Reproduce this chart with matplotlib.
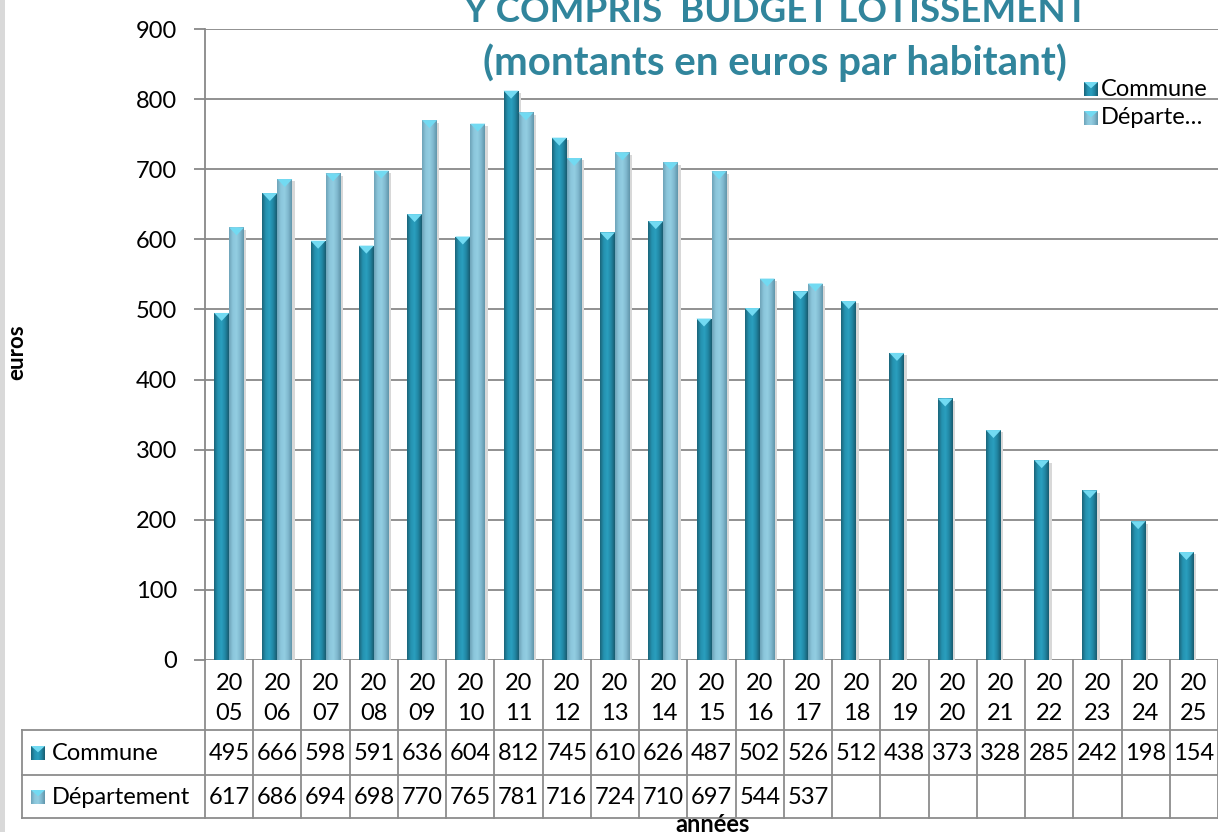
import numpy as np
import matplotlib
matplotlib.use("Agg")
import matplotlib.pyplot as plt
from matplotlib.patches import Polygon, Rectangle
from matplotlib.transforms import blended_transform_factory
from matplotlib.colors import LinearSegmentedColormap

plt.rcParams['font.family'] = ['Lato', 'DejaVu Sans']

# ---------------- data ----------------
years = ["2005", "2006", "2007", "2008", "2009", "2010", "2011", "2012", "2013", "2014",
         "2015", "2016", "2017", "2018", "2019", "2020", "2021", "2022", "2023", "2024", "2025"]
commune = [495, 666, 598, 591, 636, 604, 812, 745, 610, 626, 487, 502, 526, 512, 438, 373,
           328, 285, 242, 198, 154]
departement = [617, 686, 694, 698, 770, 765, 781, 716, 724, 710, 697, 544, 537,
               None, None, None, None, None, None, None, None]
series_names = ["Commune", "Département"]
legend_labels = ["Commune", "Départe…"]
title_lines = ["Y COMPRIS  BUDGET LOTISSEMENT", "(montants en euros par habitant)"]
ylabel = "euros"
xlabel = "années"
yticks = [0, 100, 200, 300, 400, 500, 600, 700, 800, 900]

# ---------------- style ----------------
W, H = 1218, 832
TITLE_C = "#31859c"
GRID_C = "#888888"
cmap_c = LinearSegmentedColormap.from_list("c", ["#1a6479", "#2592b0", "#2a9fbf", "#2187a4", "#185c70"])
cmap_d = LinearSegmentedColormap.from_list("d", ["#6ea3b8", "#8bc6db", "#93cee2", "#80b9cf", "#6195aa"])
cap_c = "#72daf2"
fs = 17

fig = plt.figure(figsize=(W / 100, H / 100), dpi=100)
fig.patch.set_facecolor("white")
fig.add_artist(Rectangle((0, 0), 5 / W, 1, transform=fig.transFigure,
                         facecolor="#d9d9d9", edgecolor="none"))

def fx(px):
    return px / W

def fy(py):
    return 1 - py / H

ax = fig.add_axes([fx(205), fy(660), fx(1218 - 205), (660 - 29) / H])
ax.set_facecolor("none")
n = len(years)
x = np.arange(n)
bw = 0.31
ax.set_xlim(-0.5, n - 0.5)
ax.set_ylim(0, 900)

for yv in yticks:
    ax.axhline(yv, color=GRID_C, lw=1.3, zorder=1)

grad = np.linspace(0, 1, 64).reshape(1, -1)
cap_h = 900 * 8 / 631.0

def draw_bars(xpos, vals, cmap, zo):
    vv = [np.nan if v is None else v for v in vals]
    bars = ax.bar(xpos, vv, width=bw, align="edge", color=cmap(0.5), edgecolor="none", zorder=zo)
    for b, v in zip(bars, vv):
        if np.isnan(v):
            continue
        x0, w, h = b.get_x(), b.get_width(), b.get_height()
        ax.add_patch(Rectangle((x0 + w, 0), 0.05, h - cap_h * 0.3, facecolor="#d8d8d8",
                               edgecolor="none", zorder=zo - 0.5))
        im = ax.imshow(grad, extent=(x0, x0 + w, 0, h), aspect="auto", cmap=cmap,
                       zorder=zo + 0.1, interpolation="bilinear")
        im.set_clip_path(b)
        ax.add_patch(Polygon([(x0, h), (x0 + w, h), (x0 + w * 0.5, h - cap_h)], closed=True,
                             facecolor=cap_c, edgecolor="none", zorder=zo + 0.2))
    return bars

draw_bars(x - bw, commune, cmap_c, 3)
draw_bars(x, departement, cmap_d, 3)
ax.set_xlim(-0.5, n - 0.5)
ax.set_ylim(0, 900)

for s in ["top", "right", "bottom"]:
    ax.spines[s].set_visible(False)
ax.spines["left"].set_color(GRID_C)
ax.spines["left"].set_linewidth(1.3)
ax.set_xticks([])
ax.set_yticks(yticks)
ax.set_yticklabels([str(v) for v in yticks], fontsize=fs)
ax.tick_params(axis="y", length=8, width=1.3, color=GRID_C, pad=12)

# ---------------- data table ----------------
tr = blended_transform_factory(ax.transData, fig.transFigure)
rows_y = [660, 730, 775, 818]
lc = "#8c8c8c"
for i in range(n + 1):
    xb = i - 0.5
    ax.add_line(plt.Line2D([xb, xb], [fy(660), fy(818)], transform=tr, color=lc, lw=1.3, clip_on=False))
for ry in rows_y[1:]:
    fig.add_artist(plt.Line2D([fx(22), 1], [fy(ry), fy(ry)], transform=fig.transFigure,
                              color=lc, lw=1.3))
fig.add_artist(plt.Line2D([fx(22), fx(22)], [fy(730), fy(818)], transform=fig.transFigure,
                          color=lc, lw=1.3))

for i, yr in enumerate(years):
    ax.text(i, fy(684), yr[:2], transform=tr, ha="center", va="center", fontsize=fs, clip_on=False)
    ax.text(i, fy(714), yr[2:], transform=tr, ha="center", va="center", fontsize=fs, clip_on=False)
    ax.text(i, fy(753), str(commune[i]), transform=tr, ha="center", va="center", fontsize=fs,
            clip_on=False)
    if departement[i] is not None:
        ax.text(i, fy(797), str(departement[i]), transform=tr, ha="center", va="center",
                fontsize=fs, clip_on=False)

def key_icon(px, py, cmap):
    s = 14
    a = fig.add_axes([fx(px), fy(py + s / 2), fx(s), s / H])
    a.imshow(grad, aspect="auto", cmap=cmap, extent=(0, 1, 0, 1))
    a.add_patch(Polygon([(0, 1), (1, 1), (0.5, 0.55)], facecolor=cap_c, edgecolor="none"))
    a.set_xlim(0, 1); a.set_ylim(0, 1)
    a.axis("off")

for name, py, cm in zip(series_names, [753, 797], [cmap_c, cmap_d]):
    key_icon(31, py, cm)
    fig.text(fx(52), fy(py), name, ha="left", va="center", fontsize=fs)

# ---------------- legend ----------------
for lab, py, cm in zip(legend_labels, [89, 118], [cmap_c, cmap_d]):
    key_icon(1084, py, cm)
    fig.text(fx(1101), fy(py), lab, ha="left", va="center", fontsize=fs)

# ---------------- titles and labels ----------------
fig.text(fx(776), fy(11), title_lines[0], ha="center", va="center", fontsize=26.5,
         fontweight="bold", color=TITLE_C)
fig.text(fx(775), fy(63), title_lines[1], ha="center", va="center", fontsize=29,
         fontweight="bold", color=TITLE_C)
fig.text(fx(17), fy(352), ylabel, ha="center", va="center", rotation=90, fontsize=16,
         fontweight="bold")
fig.text(fx(713), fy(824), xlabel, ha="center", va="center", fontsize=17, fontweight="bold")

fig.savefig("out.png", dpi=100)
